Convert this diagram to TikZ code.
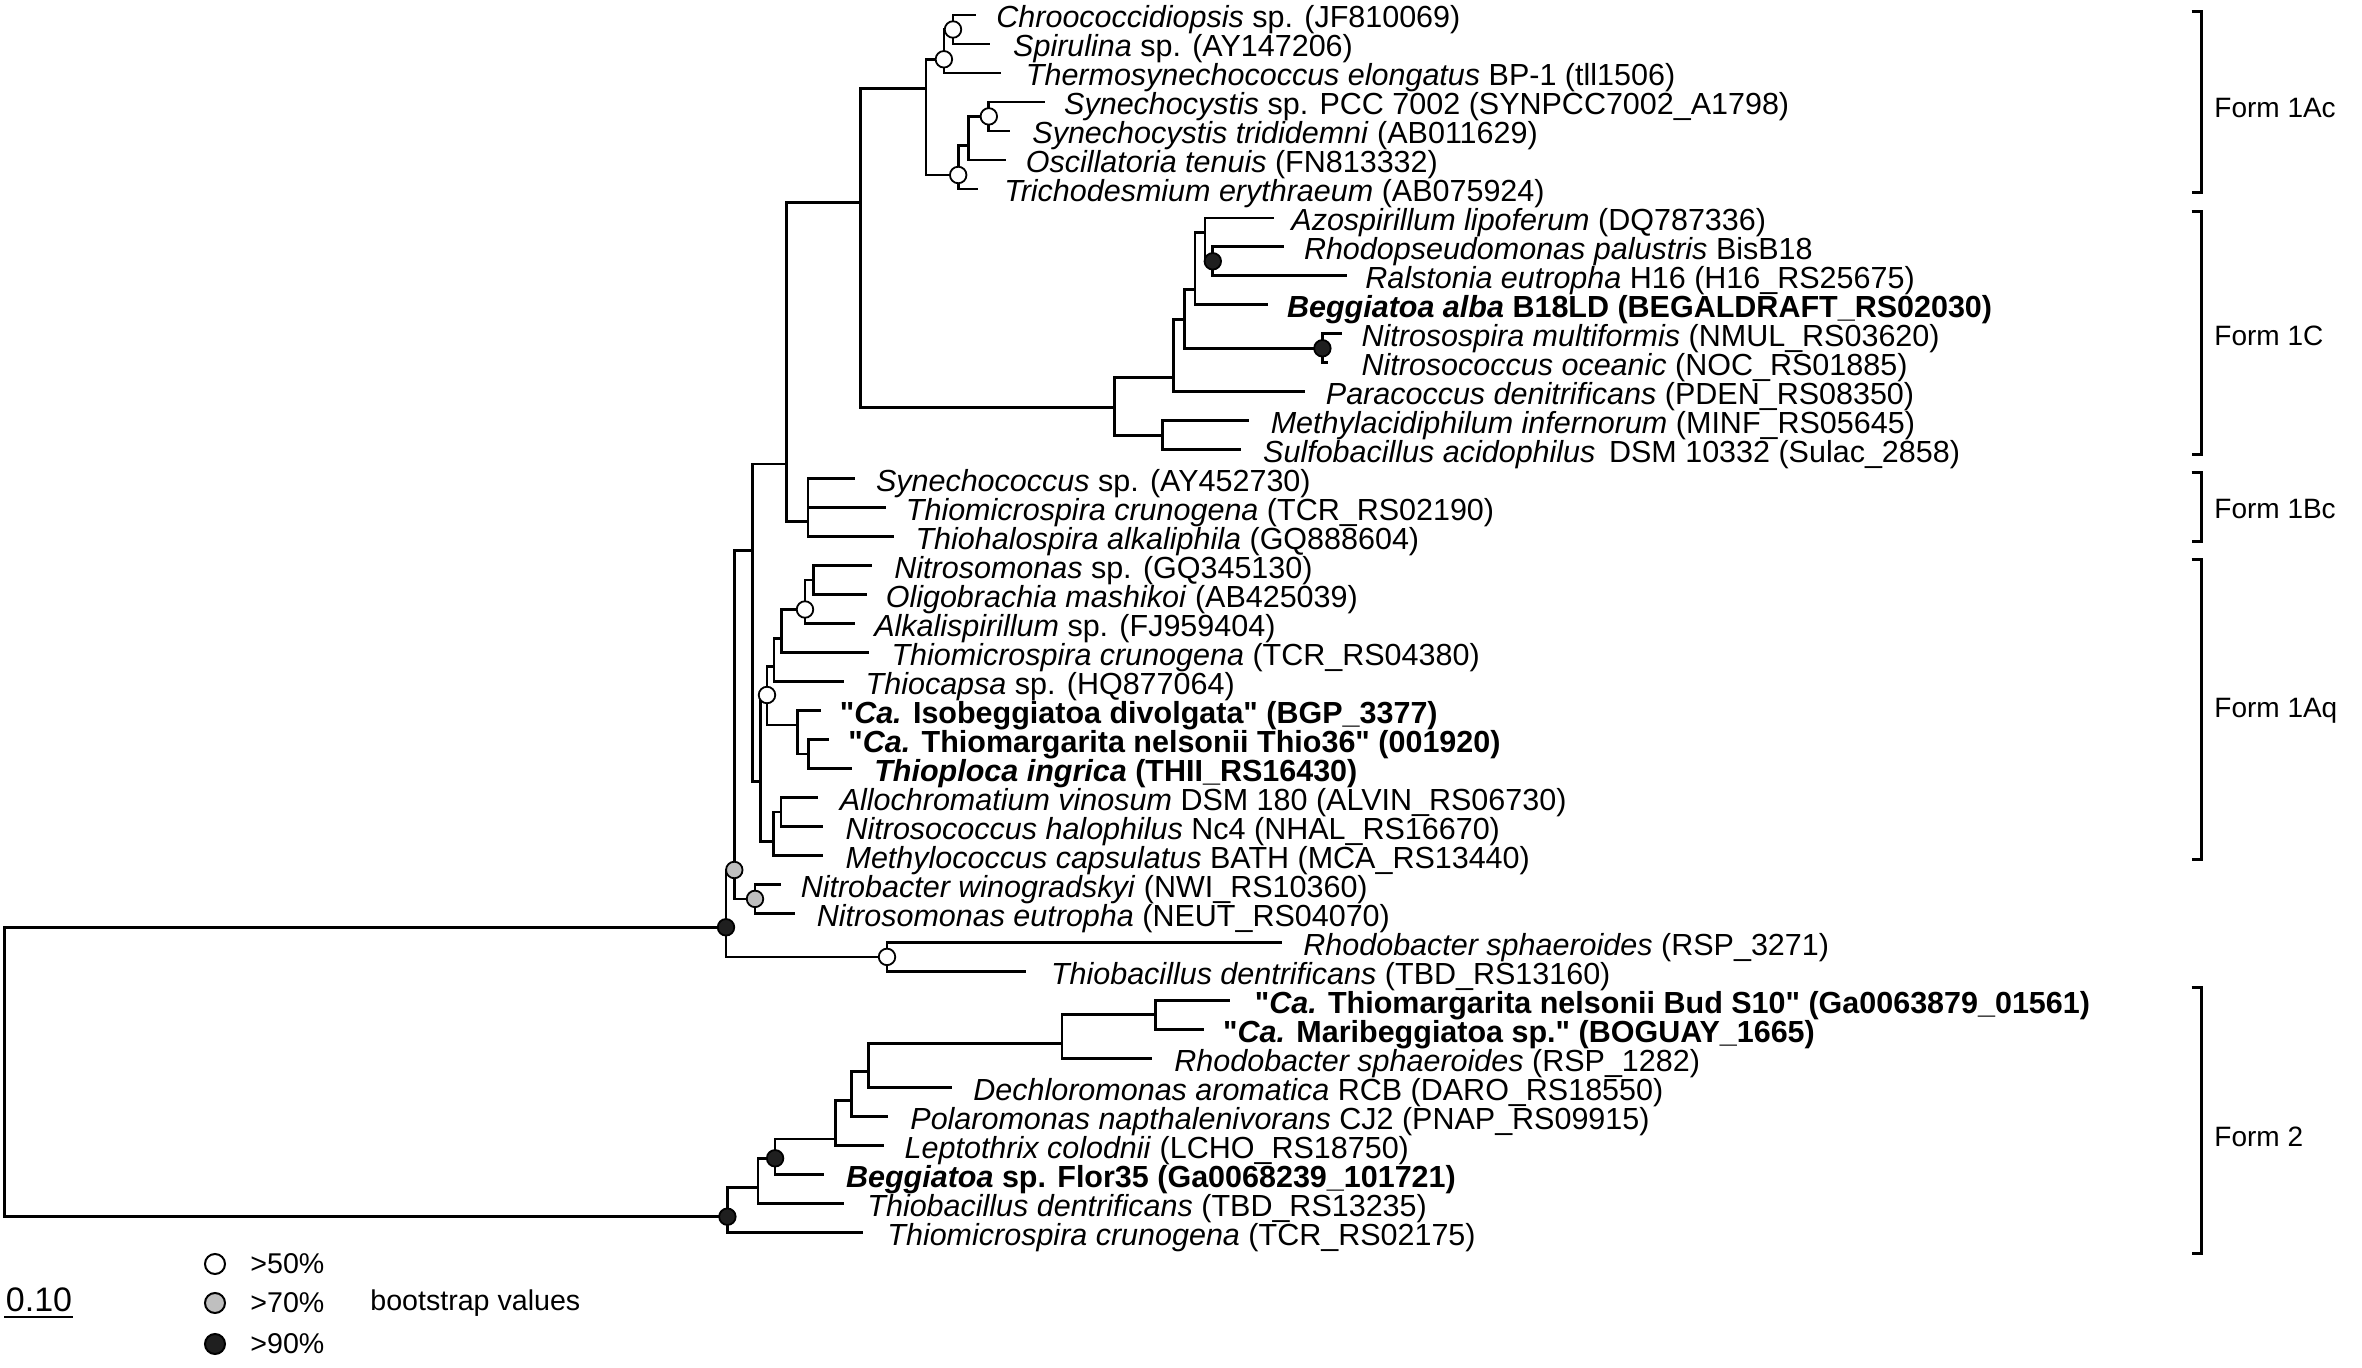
\documentclass[tikz,border=0pt]{standalone}
\usepackage{fontspec}
\setmainfont{Liberation Sans}[Ligatures=TeXOff]
\newcommand\tleaf[4]{%
  \coordinate (l#1) at (#2,{15+28.98*(#1-1)});
  \node[lbl] (t#1) at (#3,{15+28.98*(#1-1)+13}) {#4};}
\begin{document}
\begin{tikzpicture}[x=0.5pt,y=-0.5pt,
  br/.style={line width=1.35pt, line join=miter, line cap=rect},
  lbl/.style={anchor=base west, inner sep=0pt, font=\fontsize{15.25pt}{18pt}\selectfont},
  dot/.style={circle, draw=black, line width=0.9pt, minimum size=8.25pt, inner sep=0pt},
  d50/.style={dot, fill=white},
  d70/.style={dot, fill=black!25},
  d90/.style={dot, fill=black!88},
  bracket/.style={line width=1.5pt},
  formlbl/.style={anchor=west, inner sep=0pt, font=\fontsize{14pt}{17pt}\selectfont},
  leg/.style={anchor=west, inner sep=0pt, font=\fontsize{14.3pt}{17pt}\selectfont}]
\fill[white] (0,0) rectangle (2362,1368);
\useasboundingbox (0,0) rectangle (2362,1368);

% ---------- internal nodes ----------
\coordinate (root) at (4.3,1072);
\coordinate (P) at (726,927.3);
\coordinate (U) at (887,956.9);
\coordinate (T) at (734.3,870);
\coordinate (NN) at (755,898.9);
\coordinate (S) at (752.7,550.7);
\coordinate (R) at (786.5,464);
\coordinate (Bc) at (808,521.7);
\coordinate (Q) at (860.7,202.7);
\coordinate (F) at (926,88.3);
\coordinate (B) at (943.9,59.3);
\coordinate (A) at (953,29.5);
\coordinate (C) at (958.2,175);
\coordinate (D) at (968.4,145.7);
\coordinate (E) at (988.8,116.4);
\coordinate (M) at (1114.8,407.3);
\coordinate (N) at (1162.2,435.2);
\coordinate (L) at (1173.5,377.7);
\coordinate (J) at (1184.7,319.3);
\coordinate (K) at (1322.4,348.3);
\coordinate (I) at (1194.9,289.3);
\coordinate (G) at (1205.1,232.3);
\coordinate (H) at (1212.8,261.3);
\coordinate (Aq) at (760.7,781.7);
\coordinate (WC) at (767,695);
\coordinate (Y1) at (774,666.7);
\coordinate (Y2) at (781.7,638.3);
\coordinate (Y3) at (805,609.5);
\coordinate (Y4) at (813.3,580.1);
\coordinate (Iso) at (797.3,725);
\coordinate (Y5) at (808.3,754);
\coordinate (MM) at (773.3,841.7);
\coordinate (Y6) at (781,812);
\coordinate (V) at (727.4,1216.7);
\coordinate (W) at (757.9,1187.7);
\coordinate (X) at (775.1,1158.3);
\coordinate (Yb) at (835.4,1139);
\coordinate (Z) at (851.4,1100.7);
\coordinate (AA) at (868.7,1071.7);
\coordinate (BB) at (1062.1,1043.3);
\coordinate (CC) at (1155.7,1014.8);

% ---------- leaves ----------
\tleaf{1}{974.5}{996}{\textit{Chroococcidiopsis} sp. (JF810069)}
\tleaf{2}{988.8}{1012.8}{\textit{Spirulina} sp. (AY147206)}
\tleaf{3}{1000}{1025.5}{\textit{Thermosynechococcus elongatus} BP-1 (tll1506)}
\tleaf{4}{1043.4}{1063.8}{\textit{Synechocystis} sp. PCC 7002 (SYNPCC7002\_A1798)}
\tleaf{5}{1009}{1032}{\textit{Synechocystis trididemni} (AB011629)}
\tleaf{6}{1005}{1025.5}{\textit{Oscillatoria tenuis} (FN813332)}
\tleaf{7}{977}{1004}{\textit{Trichodesmium erythraeum} (AB075924)}
\tleaf{8}{1273}{1291}{\textit{Azospirillum lipoferum} (DQ787336)}
\tleaf{9}{1283}{1303.6}{\textit{Rhodopseudomonas palustris} BisB18}
\tleaf{10}{1345.9}{1365}{\textit{Ralstonia eutropha} H16 (H16\_RS25675)}
\tleaf{11}{1266.3}{1286.7}{\bfseries\textit{Beggiatoa alba} B18LD (BEGALDRAFT\_RS02030)}
\tleaf{12}{1340.8}{1361.2}{\textit{Nitrosospira multiformis} (NMUL\_RS03620)}
\tleaf{13}{1326.5}{1361.2}{\textit{Nitrosococcus oceanic} (NOC\_RS01885)}
\tleaf{14}{1303.6}{1325.5}{\textit{Paracoccus denitrificans} (PDEN\_RS08350)}
\tleaf{15}{1247.4}{1270.4}{\textit{Methylacidiphilum infernorum} (MINF\_RS05645)}
\tleaf{16}{1239.8}{1262.8}{\textit{Sulfobacillus acidophilus}\, DSM 10332 (Sulac\_2858)}
\tleaf{17}{853.5}{875.6}{\textit{Synechococcus} sp. (AY452730)}
\tleaf{18}{884.2}{905.5}{\textit{Thiomicrospira crunogena} (TCR\_RS02190)}
\tleaf{19}{892.3}{915.2}{\textit{Thiohalospira alkaliphila} (GQ888604)}
\tleaf{20}{871}{894}{\textit{Nitrosomonas} sp. (GQ345130)}
\tleaf{21}{865.3}{885.4}{\textit{Oligobrachia mashikoi} (AB425039)}
\tleaf{22}{853.3}{873.9}{\textit{Alkalispirillum} sp. (FJ959404)}
\tleaf{23}{868.1}{891.1}{\textit{Thiomicrospira crunogena} (TCR\_RS04380)}
\tleaf{24}{842.3}{865.3}{\textit{Thiocapsa} sp. (HQ877064)}
\tleaf{25}{819.3}{839.4}{\bfseries "\textit{Ca.} Isobeggiatoa divolgata" (BGP\_3377)}
\tleaf{26}{827.3}{848}{\bfseries "\textit{Ca.} Thiomargarita nelsonii Thio36" (001920)}
\tleaf{27}{851}{873.9}{\bfseries\textit{Thioploca ingrica} (THII\_RS16430)}
\tleaf{28}{816.7}{839.4}{\textit{Allochromatium vinosum} DSM 180 (ALVIN\_RS06730)}
\tleaf{29}{821.7}{845.2}{\textit{Nitrosococcus halophilus} Nc4 (NHAL\_RS16670)}
\tleaf{30}{821.7}{845.2}{\textit{Methylococcus capsulatus} BATH (MCA\_RS13440)}
\tleaf{31}{780}{800.4}{\textit{Nitrobacter winogradskyi} (NWI\_RS10360)}
\tleaf{32}{793.3}{816.5}{\textit{Nitrosomonas eutropha} (NEUT\_RS04070)}
\tleaf{33}{1280.3}{1303}{\textit{Rhodobacter sphaeroides} (RSP\_3271)}
\tleaf{34}{1024.8}{1050.6}{\textit{Thiobacillus dentrificans} (TBD\_RS13160)}
\tleaf{35}{1228.6}{1254.4}{\bfseries "\textit{Ca.} Thiomargarita nelsonii Bud S10" (Ga0063879\_01561)}
\tleaf{36}{1202.8}{1222.8}{\bfseries "\textit{Ca.} Maribeggiatoa sp." (BOGUAY\_1665)}
\tleaf{37}{1151}{1174}{\textit{Rhodobacter sphaeroides} (RSP\_1282)}
\tleaf{38}{950.2}{973}{\textit{Dechloromonas aromatica} RCB (DARO\_RS18550)}
\tleaf{39}{887}{910}{\textit{Polaromonas napthalenivorans} CJ2 (PNAP\_RS09915)}
\tleaf{40}{882.4}{904.3}{\textit{Leptothrix colodnii} (LCHO\_RS18750)}
\tleaf{41}{822.7}{845.7}{\bfseries\textit{Beggiatoa} sp. Flor35 (Ga0068239\_101721)}
\tleaf{42}{842.3}{867}{\textit{Thiobacillus dentrificans} (TBD\_RS13235)}
\tleaf{43}{861.2}{887}{\textit{Thiomicrospira crunogena} (TCR\_RS02175)}

% ---------- branches ----------
\foreach \p/\c in {root/P, root/V, P/T, P/U, U/l33, U/l34, T/S, T/NN, NN/l31, NN/l32,
  S/R, S/Aq, R/Q, R/Bc, Bc/l17, Bc/l18, Bc/l19, Q/F, Q/M, F/B, F/C, B/A, B/l3,
  A/l1, A/l2, C/D, C/l7, D/E, D/l6, E/l4, E/l5, M/L, M/N, N/l15, N/l16,
  L/J, L/l14, J/I, J/K, K/l12, K/l13, I/G, I/l11, G/l8, G/H, H/l9, H/l10,
  Aq/WC, Aq/MM, WC/Y1, WC/Iso, Y1/Y2, Y1/l24, Y2/Y3, Y2/l23, Y3/Y4, Y3/l22,
  Y4/l20, Y4/l21, Iso/l25, Iso/Y5, Y5/l26, Y5/l27, MM/Y6, MM/l30, Y6/l28, Y6/l29,
  V/W, V/l43, W/X, W/l42, X/Yb, X/l41, Yb/Z, Yb/l40, Z/AA, Z/l39, AA/BB, AA/l38,
  BB/CC, BB/l37, CC/l35, CC/l36}
  \draw[br] (\p) |- (\c);

% ---------- bootstrap dots ----------
\node[d50] (dA) at (A) {};
\node[d50] (dB) at (B) {};
\node[d50] (dC) at (C) {};
\node[d50] (dE) at (E) {};
\node[d90] (dH) at (H) {};
\node[d90] (dK) at (K) {};
\node[d50] (dWC) at (WC) {};
\node[d50] (dY3) at (Y3) {};
\node[d70] (dT) at (T) {};
\node[d70] (dNN) at (NN) {};
\node[d90] (dP) at (P) {};
\node[d50] (dU) at (U) {};
\node[d90] (dV) at (V) {};
\node[d90] (dX) at (X) {};

% ---------- form brackets ----------
\foreach \ya/\yb/\ym/\txt in {12/193/108/Form 1Ac, 212/455/336/Form 1C, 473/542/509/Form 1Bc,
  560/860/711/Form 1Aq, 987/1253/1137/Form 2}{
  \draw[bracket] (2191.7,\ya) -- (2201.7,\ya) -- (2201.7,\yb) -- (2191.7,\yb);
  \node[formlbl] at (2214,\ym) {\txt};
}

% ---------- scale bar ----------
\coordinate (sb1) at (4,1317);
\coordinate (sb2) at (73,1317);
\draw[line width=1pt] (sb1) -- (sb2);
\node[anchor=base, inner sep=0pt, font=\fontsize{17pt}{20pt}\selectfont] (sbt) at (39,1311) {0.10};

% ---------- legend ----------
\node[dot, fill=white, minimum size=10pt, line width=1pt] (k50) at (215,1264) {};
\node[dot, fill=black!25, minimum size=10pt, line width=1pt] (k70) at (215,1303) {};
\node[dot, fill=black!88, minimum size=10pt, line width=1pt] (k90) at (215,1344) {};
\node[leg] (k50t) at (250,1264) {>50\%};
\node[leg] (k70t) at (250,1303) {>70\%};
\node[leg] (k90t) at (250,1344) {>90\%};
\node[leg] (kbt) at (370,1303) {bootstrap values};
\end{tikzpicture}
\end{document}
